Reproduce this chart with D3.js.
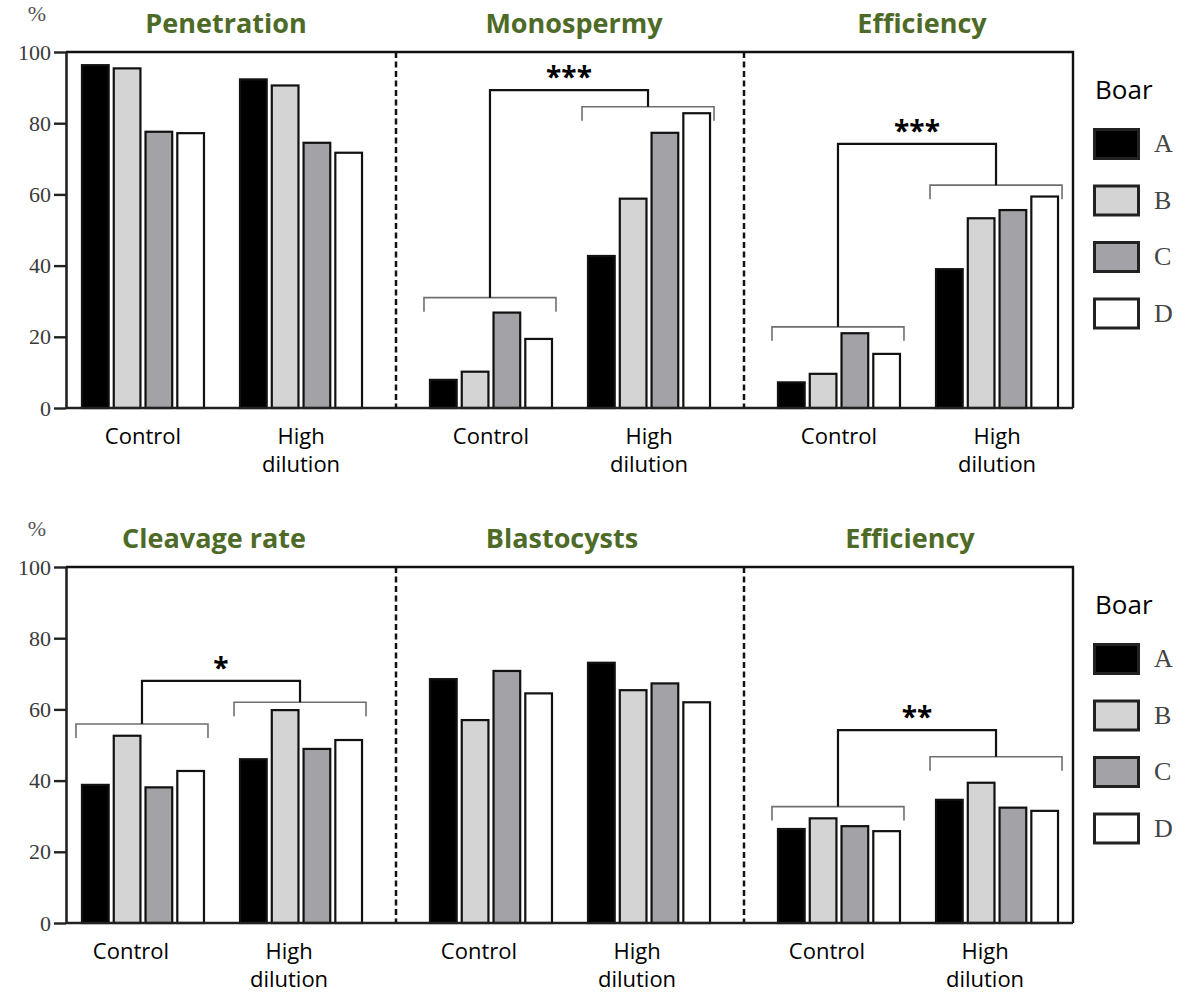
<!DOCTYPE html>
<html>
<head>
<meta charset="utf-8">
<script src="https://cdn.jsdelivr.net/npm/d3@7"></script>
<style>
  body { margin: 0; background: #fff; }
  svg { display: block; }
</style>
</head>
<body>
<svg id="chart"></svg>
<script>
// Categories
const groups = ["Control", "High dilution"];
const boars = ["A", "B", "C", "D"];
const yTicks = [0, 20, 40, 60, 80, 100];

// Panel titles
const topTitles = ["Penetration", "Monospermy", "Efficiency"];
const bottomTitles = ["Cleavage rate", "Blastocysts", "Efficiency"];

// Values (%), one row per group, one value per boar A-D
const penetration = [[96.3, 95.4, 77.6, 77.2], [92.3, 90.6, 74.5, 71.7]];
const monospermy = [[7.9, 10.2, 26.8, 19.4], [42.7, 58.8, 77.3, 82.8]];
const efficiencyIvf = [[7.2, 9.6, 21.0, 15.2], [39.0, 53.3, 55.6, 59.4]];
const cleavage = [[38.8, 52.6, 38.1, 42.7], [46.0, 59.8, 48.9, 51.4]];
const blastocysts = [[68.5, 57.0, 70.8, 64.5], [73.1, 65.4, 67.3, 62.0]];
const efficiencyEmb = [[26.4, 29.4, 27.2, 25.8], [34.6, 39.4, 32.4, 31.5]];

// Significance brackets: [stars, control level, high dilution level, top level]
const monospermySig = ["***", 31, 84.6, 89.3];
const efficiencyIvfSig = ["***", 22.8, 62.6, 74.2];
const cleavageSig = ["*", 55.9, 62, 68];
const efficiencyEmbSig = ["**", 32.7, 46.7, 54.2];

// SVG dimensions
let width = 1200, height = 994;
let plotLeft = 66, plotRight = 1073, plotHeight = 356;

const rows = [
    { top: 52, titles: topTitles, data: [penetration, monospermy, efficiencyIvf],
      sig: [null, monospermySig, efficiencyIvfSig], shift: 0 },
    { top: 567, titles: bottomTitles, data: [cleavage, blastocysts, efficiencyEmb],
      sig: [cleavageSig, null, efficiencyEmbSig], shift: -12 }
];

let svg = d3.select('#chart').attr('width', width).attr('height', height);

// Scales
const xPanel = d3.scaleBand().domain([0, 1, 2]).range([48, 1092]);
const xGroup = d3.scaleBand().domain(groups).range([0, xPanel.bandwidth()])
    .paddingInner(0.228).paddingOuter(0.215);
const xBoar = d3.scaleBand().domain(boars).range([0, xGroup.bandwidth()]).paddingInner(0.16);
const yScale = d3.scaleLinear().domain([0, 100]).range([plotHeight, 0]);
const fill = d3.scaleOrdinal(boars, ["#000000", "#d4d4d4", "#a3a2a7", "#ffffff"]);

const titleFont = "'Open Sans', 'Noto Sans', sans-serif";
const serifFont = "'Liberation Serif', 'DejaVu Serif', serif";

function drawRow(row) {
    const g = svg.append('g').attr('transform', `translate(0, ${row.top})`);

    // Bars
    row.data.forEach((panel, p) => {
        panel.forEach((vals, gi) => {
            g.selectAll(null)
                .data(vals)
                .enter()
                .append('rect')
                .attr('x', (d, bi) => xPanel(p) + xGroup(groups[gi]) + xBoar(boars[bi]))
                .attr('y', d => yScale(d))
                .attr('width', xBoar.bandwidth())
                .attr('height', d => plotHeight - yScale(d))
                .attr('fill', (d, bi) => fill(boars[bi]))
                .attr('stroke', '#111')
                .attr('stroke-width', 2.2);
        });
    });

    // Frame: top and right
    g.append('path')
        .attr('d', `M${plotLeft},${yScale(100)}H${plotRight}V${yScale(0)}`)
        .attr('fill', 'none').attr('stroke', '#111').attr('stroke-width', 2.4);

    // Dashed separators
    [1, 2].forEach(p => {
        g.append('line')
            .attr('x1', xPanel(p)).attr('x2', xPanel(p))
            .attr('y1', yScale(100)).attr('y2', yScale(0))
            .attr('stroke', '#111').attr('stroke-width', 2.5)
            .attr('stroke-dasharray', '6,3.5');
    });

    // Bottom axis line
    g.append('line')
        .attr('x1', plotLeft).attr('x2', plotRight)
        .attr('y1', yScale(0)).attr('y2', yScale(0))
        .attr('stroke', '#222').attr('stroke-width', 2.6);

    // Y axis
    let yAxis = d3.axisLeft(yScale).tickValues(yTicks).tickSize(12).tickSizeOuter(0).tickPadding(3);
    const ya = g.append('g').attr('transform', `translate(${plotLeft}, 0)`).call(yAxis);
    ya.attr('font-size', null).attr('font-family', null);
    ya.select('.domain').attr('stroke', '#222').attr('stroke-width', 2.6);
    ya.selectAll('.tick line').attr('stroke', '#222').attr('stroke-width', 2.4);
    ya.selectAll('.tick text')
        .attr('fill', '#3a3a3a')
        .style('font-family', serifFont)
        .style('font-size', '22px');

    // "%" label
    g.append('text')
        .attr('x', 37).attr('y', -31)
        .attr('text-anchor', 'middle')
        .attr('fill', '#555')
        .style('font-family', serifFont)
        .style('font-size', '22px')
        .text('%');

    // Panel titles
    row.titles.forEach((t, p) => {
        g.append('text')
            .attr('x', xPanel(p) + xPanel.bandwidth() / 2 + row.shift + 4)
            .attr('y', -19)
            .attr('text-anchor', 'middle')
            .attr('fill', '#4d6a27')
            .style('font-family', titleFont)
            .style('font-weight', 'bold')
            .style('font-size', '27px')
            .text(t);
    });

    // Group labels
    row.data.forEach((panel, p) => {
        groups.forEach(gr => {
            const cx = xPanel(p) + xGroup(gr) + xGroup.bandwidth() / 2 + row.shift;
            const lines = gr === "High dilution" ? ["High", "dilution"] : [gr];
            lines.forEach((ln, li) => {
                g.append('text')
                    .attr('x', cx)
                    .attr('y', plotHeight + 36 + li * 28)
                    .attr('text-anchor', 'middle')
                    .attr('fill', '#000')
                    .style('font-family', titleFont)
                    .style('font-size', '22px')
                    .text(ln);
            });
        });
    });

    // Significance brackets
    row.sig.forEach((s, p) => {
        if (!s) return;
        const [stars, lvlCtrl, lvlHigh, lvlTop] = s;
        const centers = [];
        [lvlCtrl, lvlHigh].forEach((lvl, gi) => {
            const x0 = xPanel(p) + xGroup(groups[gi]) - 6;
            const x1 = xPanel(p) + xGroup(groups[gi]) + xGroup.bandwidth() + 4;
            const yy = yScale(lvl);
            g.append('path')
                .attr('d', `M${x0},${yy + 14}V${yy}H${x1}V${yy + 14}`)
                .attr('fill', 'none').attr('stroke', '#6f6f6f').attr('stroke-width', 1.6);
            centers.push([(x0 + x1) / 2, yy]);
        });
        const yt = yScale(lvlTop);
        g.append('path')
            .attr('d', `M${centers[0][0]},${centers[0][1]}V${yt}H${centers[1][0]}V${centers[1][1]}`)
            .attr('fill', 'none').attr('stroke', '#111').attr('stroke-width', 2.2);
        g.append('text')
            .attr('x', (centers[0][0] + centers[1][0]) / 2)
            .attr('y', yt - 3)
            .attr('text-anchor', 'middle')
            .attr('fill', '#000')
            .style('font-family', titleFont)
            .style('font-weight', 'bold')
            .style('font-size', '28px')
            .text(stars);
    });

    // Legend
    const lg = g.append('g').attr('transform', 'translate(1093, 0)');
    lg.append('text')
        .attr('x', 2).attr('y', 47)
        .attr('fill', '#000')
        .style('font-family', titleFont)
        .style('font-size', '26px')
        .text('Boar');
    const items = lg.selectAll('g.item')
        .data(boars)
        .enter()
        .append('g')
        .attr('class', 'item')
        .attr('transform', (d, i) => `translate(0, ${76 + i * 56.5})`);
    items.append('rect')
        .attr('x', 1.5).attr('y', 1.5)
        .attr('width', 44).attr('height', 29)
        .attr('fill', d => fill(d))
        .attr('stroke', '#222').attr('stroke-width', 3);
    items.append('text')
        .attr('x', 61).attr('y', 24)
        .attr('fill', '#444')
        .style('font-family', serifFont)
        .style('font-size', '26px')
        .text(d => d);
}

rows.forEach(drawRow);
</script>
</body>
</html>
